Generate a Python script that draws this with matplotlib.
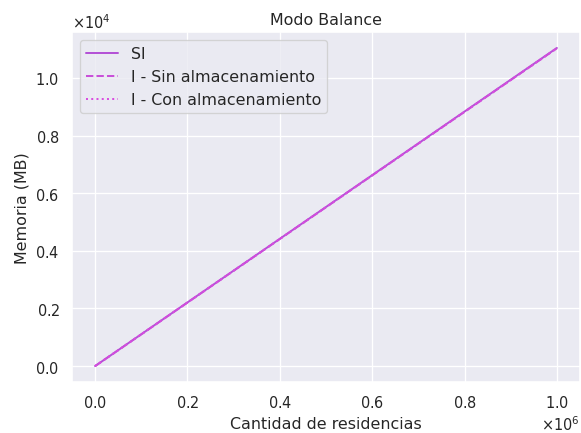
import matplotlib
matplotlib.use("Agg")
import matplotlib.pyplot as plt
import seaborn as sns

sns.set_theme(style="darkgrid")

# Cantidad de residencias
residencias = [0, 100000, 200000, 300000, 400000, 500000,
               600000, 700000, 800000, 900000, 1000000]

# Memoria (MB) por modo
mem_si = [2, 1106, 2210, 3314, 4418, 5522, 6626, 7730, 8834, 9938, 11042]
mem_sin_alm = [1, 1103, 2206, 3309, 4412, 5515, 6618, 7721, 8824, 9927, 11030]
mem_con_alm = [1, 1104, 2207, 3310, 4413, 5516, 6619, 7722, 8825, 9928, 11032]

fig, ax = plt.subplots(figsize=(6.126, 4.568), dpi=95)
ax.plot(residencias, mem_si, color="#b452d6", linestyle="-",
        label="SI")
ax.plot(residencias, mem_sin_alm, color="#c94fd9", linestyle="--",
        label="I - Sin almacenamiento")
ax.plot(residencias, mem_con_alm, color="#d94de0", linestyle=":",
        label="I - Con almacenamiento")

ax.set_title("Modo Balance")
ax.set_xlabel("Cantidad de residencias")
ax.set_ylabel("Memoria (MB)")
ax.ticklabel_format(style="sci", axis="both", scilimits=(0, 0),
                    useMathText=True)
ax.legend(loc="upper left", fontsize=12)

fig.subplots_adjust(left=72 / 582, right=580 / 582,
                    bottom=51 / 434, top=401 / 434)
fig.savefig("out.png")
